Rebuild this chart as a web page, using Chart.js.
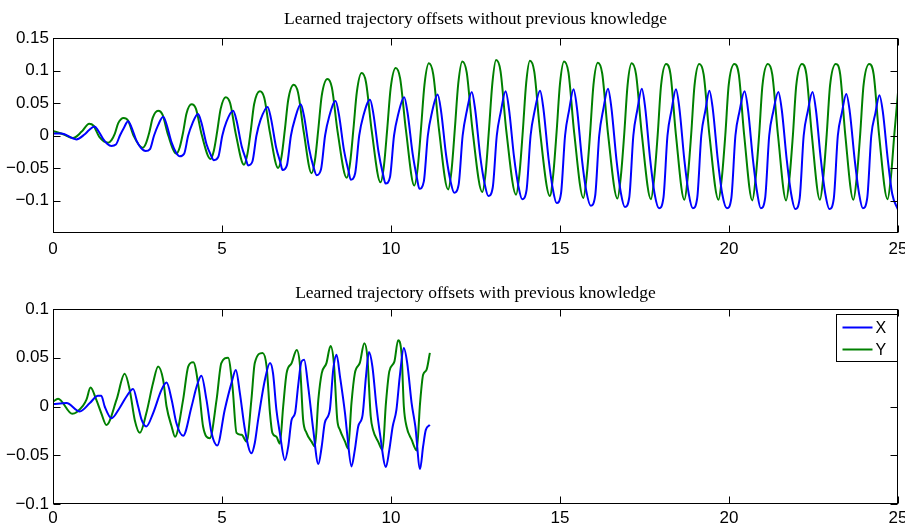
<!DOCTYPE html>
<html><head><meta charset="utf-8">
<script src="https://cdn.jsdelivr.net/npm/chart.js@4/dist/chart.umd.min.js"></script>
<style>
html,body{margin:0;padding:0;background:#fff;width:905px;height:524px;overflow:hidden}
canvas{position:absolute;left:0}
#c1{top:0}#c2{top:262px}
</style></head><body>
<canvas id="c1" width="905" height="262"></canvas>
<canvas id="c2" width="905" height="262"></canvas>
<script>
// ---- titles / labels ----
const topTitle = 'Learned trajectory offsets without previous knowledge';
const botTitle = 'Learned trajectory offsets with previous knowledge';
const seriesNames = ['X', 'Y'];
const xTicks = [0, 5, 10, 15, 20, 25];
const xTickLabels = ['0', '5', '10', '15', '20', '25'];
const topYTicks = [-0.1, -0.05, 0, 0.05, 0.1, 0.15];
const topYTickLabels = ['\u22120.1', '\u22120.05', '0', '0.05', '0.1', '0.15'];
const botYTicks = [-0.1, -0.05, 0, 0.05, 0.1];
const botYTickLabels = ['\u22120.1', '\u22120.05', '0', '0.05', '0.1'];

// ---- top plot, X (blue) ----
const topXx = [0, 0.25, 0.69, 0.94, 1.06,
 1.23, 1.33, 1.48, 1.61, 1.73, 1.86, 1.98, 2.10,
 2.22, 2.32, 2.47, 2.60, 2.74, 2.87, 2.99, 3.11,
 3.26, 3.36, 3.51, 3.64, 3.75, 3.88, 4.00, 4.12,
 4.29, 4.39, 4.54, 4.67, 4.76, 4.89, 5.01, 5.13,
 5.33, 5.43, 5.58, 5.71, 5.77, 5.90, 6.02, 6.14,
 6.35, 6.45, 6.60, 6.73, 6.79, 6.92, 7.04, 7.16,
 7.33, 7.43, 7.58, 7.71, 7.80, 7.93, 8.05, 8.17,
 8.36, 8.46, 8.61, 8.74, 8.81, 8.94, 9.06, 9.18,
 9.38, 9.48, 9.63, 9.76, 9.84, 9.97, 10.09, 10.21,
 10.39, 10.49, 10.64, 10.77, 10.84, 10.97, 11.09, 11.21,
 11.38, 11.48, 11.63, 11.76, 11.87, 12.00, 12.12, 12.24,
 12.39, 12.49, 12.64, 12.77, 12.88, 13.01, 13.13, 13.25,
 13.39, 13.49, 13.64, 13.77, 13.88, 14.01, 14.13, 14.25,
 14.41, 14.51, 14.66, 14.79, 14.90, 15.03, 15.15, 15.27,
 15.40, 15.50, 15.65, 15.78, 15.91, 16.04, 16.16, 16.28,
 16.42, 16.52, 16.67, 16.80, 16.92, 17.05, 17.17, 17.29,
 17.42, 17.52, 17.67, 17.80, 17.93, 18.06, 18.18, 18.30,
 18.43, 18.53, 18.68, 18.81, 18.93, 19.06, 19.18, 19.30,
 19.42, 19.52, 19.67, 19.80, 19.94, 20.07, 20.19, 20.31,
 20.46, 20.56, 20.71, 20.84, 20.94, 21.07, 21.19, 21.31,
 21.46, 21.56, 21.71, 21.84, 21.96, 22.09, 22.21, 22.33,
 22.47, 22.57, 22.72, 22.85, 22.97, 23.10, 23.22, 23.34,
 23.47, 23.57, 23.72, 23.85, 23.96, 24.09, 24.21, 24.33,
 24.45, 24.55, 24.70, 24.83, 25.00];
const topXy = [0.003, 0.003, -0.006, 0.002, 0.008,
 0.014, 0.008, -0.005, -0.013, -0.016, -0.014, 0.000, 0.012,
 0.022, 0.013, -0.008, -0.019, -0.024, -0.021, 0.000, 0.016,
 0.029, 0.017, -0.011, -0.026, -0.032, -0.028, 0.000, 0.018,
 0.033, 0.020, -0.013, -0.030, -0.038, -0.033, 0.000, 0.021,
 0.038, 0.023, -0.016, -0.037, -0.046, -0.040, 0.000, 0.024,
 0.044, 0.026, -0.018, -0.042, -0.053, -0.046, 0.000, 0.026,
 0.048, 0.029, -0.021, -0.049, -0.061, -0.052, 0.000, 0.029,
 0.053, 0.032, -0.023, -0.054, -0.068, -0.058, 0.000, 0.030,
 0.055, 0.033, -0.025, -0.059, -0.074, -0.064, 0.000, 0.032,
 0.059, 0.035, -0.028, -0.066, -0.082, -0.071, 0.000, 0.035,
 0.063, 0.038, -0.030, -0.070, -0.088, -0.076, 0.000, 0.037,
 0.067, 0.040, -0.032, -0.074, -0.093, -0.080, 0.000, 0.037,
 0.068, 0.041, -0.033, -0.078, -0.098, -0.084, 0.000, 0.038,
 0.069, 0.041, -0.035, -0.083, -0.104, -0.089, 0.000, 0.039,
 0.071, 0.043, -0.037, -0.086, -0.108, -0.093, 0.000, 0.040,
 0.072, 0.043, -0.037, -0.088, -0.110, -0.095, 0.000, 0.040,
 0.072, 0.043, -0.038, -0.090, -0.112, -0.096, 0.000, 0.039,
 0.071, 0.043, -0.038, -0.090, -0.112, -0.096, 0.000, 0.038,
 0.069, 0.041, -0.038, -0.090, -0.112, -0.096, 0.000, 0.037,
 0.068, 0.041, -0.038, -0.090, -0.112, -0.096, 0.000, 0.037,
 0.067, 0.040, -0.038, -0.090, -0.113, -0.097, 0.000, 0.037,
 0.067, 0.040, -0.038, -0.090, -0.113, -0.097, 0.000, 0.035,
 0.064, 0.038, -0.038, -0.090, -0.112, -0.096, 0.000, 0.034,
 0.062, 0.037, -0.038, -0.090, -0.114];

// ---- top plot, Y (green) ----
const topYx = [0, 0.3, 0.59, 0.85,
 1.07, 1.20, 1.37, 1.63, 1.73, 1.83, 1.93,
 2.09, 2.22, 2.39, 2.65, 2.75, 2.85, 2.95,
 3.11, 3.24, 3.41, 3.65, 3.75, 3.85, 3.95,
 4.10, 4.23, 4.40, 4.66, 4.76, 4.86, 4.96,
 5.11, 5.24, 5.41, 5.65, 5.75, 5.85, 5.95,
 6.12, 6.25, 6.42, 6.66, 6.76, 6.86, 6.96,
 7.12, 7.25, 7.42, 7.65, 7.75, 7.85, 7.95,
 8.12, 8.25, 8.42, 8.69, 8.79, 8.89, 8.99,
 9.13, 9.26, 9.43, 9.69, 9.79, 9.89, 9.99,
 10.14, 10.27, 10.44, 10.69, 10.79, 10.89, 10.99,
 11.12, 11.25, 11.42, 11.69, 11.79, 11.89, 11.99,
 12.11, 12.24, 12.41, 12.70, 12.80, 12.90, 13.00,
 13.11, 13.24, 13.41, 13.70, 13.80, 13.90, 14.00,
 14.11, 14.24, 14.41, 14.70, 14.80, 14.90, 15.00,
 15.12, 15.25, 15.42, 15.69, 15.79, 15.89, 15.99,
 16.12, 16.25, 16.42, 16.70, 16.80, 16.90, 17.00,
 17.12, 17.25, 17.42, 17.69, 17.79, 17.89, 17.99,
 18.14, 18.27, 18.43, 18.68, 18.78, 18.88, 18.98,
 19.12, 19.25, 19.42, 19.69, 19.79, 19.89, 19.99,
 20.16, 20.29, 20.45, 20.69, 20.79, 20.89, 20.99,
 21.15, 21.28, 21.45, 21.69, 21.79, 21.89, 21.99,
 22.16, 22.29, 22.45, 22.69, 22.79, 22.89, 22.99,
 23.16, 23.29, 23.44, 23.68, 23.78, 23.88, 23.98,
 24.15, 24.28, 24.44, 24.69, 24.79, 24.89, 25.00];
const topYy = [0.007, 0.002, -0.004, 0.006,
 0.018, 0.015, -0.002, -0.011, -0.007, 0.003, 0.019,
 0.027, 0.023, -0.001, -0.019, -0.012, 0.005, 0.027,
 0.038, 0.032, 0.000, -0.028, -0.018, 0.005, 0.034,
 0.048, 0.041, 0.001, -0.036, -0.023, 0.007, 0.041,
 0.059, 0.050, 0.002, -0.045, -0.029, 0.007, 0.048,
 0.068, 0.058, 0.004, -0.050, -0.033, 0.009, 0.055,
 0.078, 0.066, 0.005, -0.058, -0.038, 0.010, 0.061,
 0.087, 0.074, 0.006, -0.065, -0.042, 0.011, 0.067,
 0.096, 0.082, 0.007, -0.072, -0.047, 0.011, 0.073,
 0.104, 0.088, 0.009, -0.077, -0.050, 0.012, 0.078,
 0.111, 0.094, 0.009, -0.083, -0.054, 0.011, 0.080,
 0.114, 0.097, 0.009, -0.087, -0.057, 0.010, 0.081,
 0.116, 0.099, 0.008, -0.091, -0.059, 0.007, 0.081,
 0.115, 0.098, 0.006, -0.093, -0.060, 0.006, 0.080,
 0.114, 0.097, 0.004, -0.096, -0.062, 0.003, 0.078,
 0.112, 0.095, 0.003, -0.097, -0.063, 0.002, 0.078,
 0.111, 0.094, 0.002, -0.098, -0.064, 0.001, 0.077,
 0.110, 0.094, 0.001, -0.099, -0.064, 0.001, 0.077,
 0.110, 0.094, 0.001, -0.099, -0.064, 0.000, 0.077,
 0.110, 0.094, 0.000, -0.100, -0.065, 0.000, 0.077,
 0.110, 0.094, 0.000, -0.100, -0.065, 0.000, 0.077,
 0.110, 0.094, 0.001, -0.099, -0.064, 0.001, 0.077,
 0.110, 0.094, 0.001, -0.099, -0.064, 0.001, 0.077,
 0.110, 0.094, 0.001, -0.098, -0.064, 0.001, 0.066];

// ---- bottom plot, X (blue) ----
const botXx = [0, 0.40, 0.79, 1.09,
 1.33, 1.43, 1.53, 1.73, 1.97, 2.17,
 2.37, 2.52, 2.62, 2.76, 2.96, 3.21,
 3.36, 3.51, 3.65, 3.85, 4.10, 4.25,
 4.39, 4.54, 4.69, 4.86, 5.08, 5.28,
 5.41, 5.53, 5.68, 5.87, 5.97, 6.07, 6.27,
 6.42, 6.51, 6.61, 6.71, 6.86, 6.96, 7.06, 7.16, 7.25,
 7.35, 7.43, 7.55, 7.70, 7.85, 7.95, 8.04, 8.19, 8.29,
 8.39, 8.49, 8.64, 8.70, 8.83, 8.93, 9.03, 9.16, 9.26,
 9.35, 9.45, 9.57, 9.67, 9.85, 9.95, 10.05, 10.16, 10.26,
 10.38, 10.48, 10.61, 10.72, 10.86, 10.95, 11.03, 11.15];
const botXy = [0.0025, 0.0035, -0.005, 0.0035,
 0.011, 0.011, 0.000, -0.012, -0.0015, 0.010,
 0.018, 0.000, -0.0135, -0.0205, -0.007, 0.017,
 0.0245, 0.007, -0.017, -0.030, 0.000, 0.0205,
 0.0315, 0.007, -0.027, -0.040, -0.0035, 0.024,
 0.0375, 0.0135, -0.024, -0.048, -0.0375, -0.0135, 0.0275,
 0.0445, 0.034, -0.0035, -0.027, -0.055, -0.041, -0.0135, -0.007, 0.0205,
 0.046, 0.048, 0.0205, -0.024, -0.059, -0.041, -0.017, -0.0035, 0.0375,
 0.053, 0.031, -0.007, -0.027, -0.0615, -0.0445, -0.0205, -0.0085, 0.031,
 0.056, 0.041, 0.000, -0.027, -0.062, -0.0445, -0.0205, -0.0035, 0.031,
 0.060, 0.0445, 0.0035, -0.0205, -0.064, -0.041, -0.024, -0.019];

// ---- bottom plot, Y (green) ----
const botYx = [0, 0.15, 0.57, 0.89, 0.99,
 1.11, 1.28, 1.43, 1.58, 1.88,
 2.12, 2.27, 2.42, 2.57, 2.76, 2.96,
 3.11, 3.26, 3.36, 3.51, 3.61, 3.85, 4.00,
 4.15, 4.32, 4.44, 4.64, 4.84, 4.98,
 5.18, 5.31, 5.43, 5.58, 5.73, 5.87, 5.97,
 6.20, 6.32, 6.42, 6.49, 6.61, 6.71, 6.81, 6.91, 7.06,
 7.21, 7.31, 7.40, 7.50, 7.65, 7.75, 7.85, 7.95, 8.09,
 8.21, 8.31, 8.41, 8.49, 8.64, 8.73, 8.83, 8.93, 9.08,
 9.21, 9.30, 9.40, 9.47, 9.62, 9.75, 9.85, 9.95, 10.10,
 10.21, 10.31, 10.38, 10.46, 10.61, 10.76, 10.86, 10.95, 11.05, 11.15];
const botYy = [0.005, 0.008, -0.0075, 0.001, 0.007,
 0.0195, 0.007, -0.007, -0.019, 0.007,
 0.0335, 0.017, -0.014, -0.027, -0.007, 0.024,
 0.041, 0.027, 0.000, -0.0205, -0.031, 0.007, 0.041,
 0.0455, 0.017, -0.0205, -0.0325, 0.007, 0.0445,
 0.050, 0.0205, -0.027, -0.029, -0.036, 0.007, 0.0445,
 0.055, 0.041, -0.007, -0.027, -0.031, -0.038, 0.000, 0.034, 0.0445,
 0.058, 0.041, -0.0135, -0.027, -0.036, -0.041, 0.007, 0.034, 0.0445,
 0.062, 0.0445, -0.0135, -0.024, -0.036, -0.043, 0.0035, 0.034, 0.045,
 0.065, 0.051, -0.010, -0.024, -0.036, -0.0445, 0.0035, 0.036, 0.046,
 0.068, 0.055, 0.000, -0.0205, -0.034, -0.045, 0.0035, 0.0325, 0.0375, 0.055];

// ---- helpers ----
function pts(xs, ys) {
  const n = Math.min(xs.length, ys.length);
  const out = [];
  for (let i = 0; i < n; i++) out.push({x: xs[i], y: ys[i]});
  return out;
}
const BLUE = '#0000ff', GREEN = '#008000';
const tickFont = {family: "'Liberation Sans', Arial, sans-serif", size: 17};
const titleFontCss = "17.5px 'Liberation Serif', 'DejaVu Serif', serif";

// Title centred over the plot area (as in the original figure)
const areaTitlePlugin = {
  id: 'areaTitle',
  afterDraw(chart, args, opts) {
    if (!opts || !opts.text) return;
    const {ctx, chartArea: a} = chart;
    ctx.save();
    ctx.fillStyle = '#000';
    ctx.font = titleFontCss;
    ctx.textAlign = 'center'; ctx.textBaseline = 'middle';
    ctx.fillText(opts.text, (a.left + a.right) / 2, opts.y);
    ctx.restore();
  }
};

const framePlugin = {
  id: 'frame',
  afterDraw(chart) {
    const {ctx, chartArea: a, scales} = chart;
    const L = Math.round(a.left) + 0.5, R = Math.round(a.right) - 0.5;
    const T = Math.round(a.top) + 0.5, B = Math.round(a.bottom) - 0.5;
    ctx.save();
    ctx.strokeStyle = '#000'; ctx.lineWidth = 1;
    ctx.strokeRect(L, T, R - L, B - T);
    const tl = 7;
    ctx.beginPath();
    scales.x.ticks.forEach(t => {
      const px = Math.round(scales.x.getPixelForValue(t.value)) + 0.5;
      ctx.moveTo(px, B); ctx.lineTo(px, B - tl);
      ctx.moveTo(px, T); ctx.lineTo(px, T + tl);
    });
    scales.y.ticks.forEach(t => {
      const py = Math.round(scales.y.getPixelForValue(t.value)) + 0.5;
      ctx.moveTo(L, py); ctx.lineTo(L + tl, py);
      ctx.moveTo(R, py); ctx.lineTo(R - tl, py);
    });
    ctx.stroke();
    ctx.restore();
  }
};

const legendPlugin = {
  id: 'boxLegend',
  afterDraw(chart, args, opts) {
    if (!opts || !opts.show) return;
    const {ctx, chartArea: a} = chart;
    const w = 61, h = 47;
    const x0 = Math.round(a.right) - w - 0.5, y0 = Math.round(a.top) + 5.5;
    ctx.save();
    ctx.fillStyle = '#fff';
    ctx.fillRect(x0, y0, w, h);
    ctx.strokeStyle = '#000'; ctx.lineWidth = 1;
    ctx.strokeRect(x0, y0, w, h);
    chart.data.datasets.forEach((ds, i) => {
      const yy = y0 + 13 + i * 22;
      ctx.strokeStyle = ds.borderColor; ctx.lineWidth = 2;
      ctx.beginPath(); ctx.moveTo(x0 + 6, yy); ctx.lineTo(x0 + 36, yy); ctx.stroke();
      ctx.fillStyle = '#000';
      ctx.font = "16px 'Liberation Sans', Arial, sans-serif";
      ctx.textBaseline = 'middle'; ctx.textAlign = 'left';
      ctx.fillText(ds.label, x0 + 39, yy + 1);
    });
    ctx.restore();
  }
};

function makeChart(id, cfg) {
  return new Chart(document.getElementById(id), {
    type: 'line',
    data: {
      datasets: [
        {label: seriesNames[0], data: pts(cfg.xx, cfg.xy), borderColor: BLUE, borderWidth: 2,
         pointRadius: 0, fill: false, cubicInterpolationMode: 'monotone'},
        {label: seriesNames[1], data: pts(cfg.yx, cfg.yy), borderColor: GREEN, borderWidth: 2,
         pointRadius: 0, fill: false, cubicInterpolationMode: 'monotone'}
      ]
    },
    options: {
      responsive: false, animation: false, devicePixelRatio: 1,
      layout: {padding: {left: 0, right: 7, top: cfg.areaTop, bottom: 0}},
      plugins: {
        legend: {display: false},
        tooltip: {enabled: false},
        title: {display: false},
        areaTitle: {text: cfg.title, y: cfg.titleY},
        boxLegend: {show: cfg.legend}
      },
      scales: {
        x: {
          type: 'linear', min: 0, max: 25,
          afterBuildTicks: s => { s.ticks = xTicks.map(v => ({value: v})); },
          ticks: {callback: (v, i) => xTickLabels[i], font: tickFont, color: '#000',
                  padding: cfg.xPad, maxRotation: 0, autoSkip: false},
          grid: {display: false, drawTicks: false},
          border: {display: false},
          afterFit: s => { s.height = cfg.xH; s.paddingLeft = 0; s.paddingRight = 0; }
        },
        y: {
          type: 'linear', min: cfg.ymin, max: cfg.ymax,
          afterBuildTicks: s => { s.ticks = cfg.yTicks.map(v => ({value: v})); },
          ticks: {callback: (v, i) => cfg.yLabels[i], font: tickFont, color: '#000',
                  padding: 4, autoSkip: false},
          grid: {display: false, drawTicks: false},
          border: {display: false},
          afterFit: s => { s.width = 53; s.paddingTop = 0; s.paddingBottom = 0; }
        }
      }
    },
    plugins: [framePlugin, legendPlugin, areaTitlePlugin]
  });
}

makeChart('c1', {xx: topXx, xy: topXy, yx: topYx, yy: topYy, title: topTitle,
  areaTop: 38, titleY: 19, xH: 29, xPad: 6.5, ymin: -0.15, ymax: 0.15,
  yTicks: topYTicks, yLabels: topYTickLabels, legend: false});
makeChart('c2', {xx: botXx, xy: botXy, yx: botYx, yy: botYy, title: botTitle,
  areaTop: 47, titleY: 31, xH: 20, xPad: 4, ymin: -0.1, ymax: 0.1,
  yTicks: botYTicks, yLabels: botYTickLabels, legend: true});
</script>
</body></html>
